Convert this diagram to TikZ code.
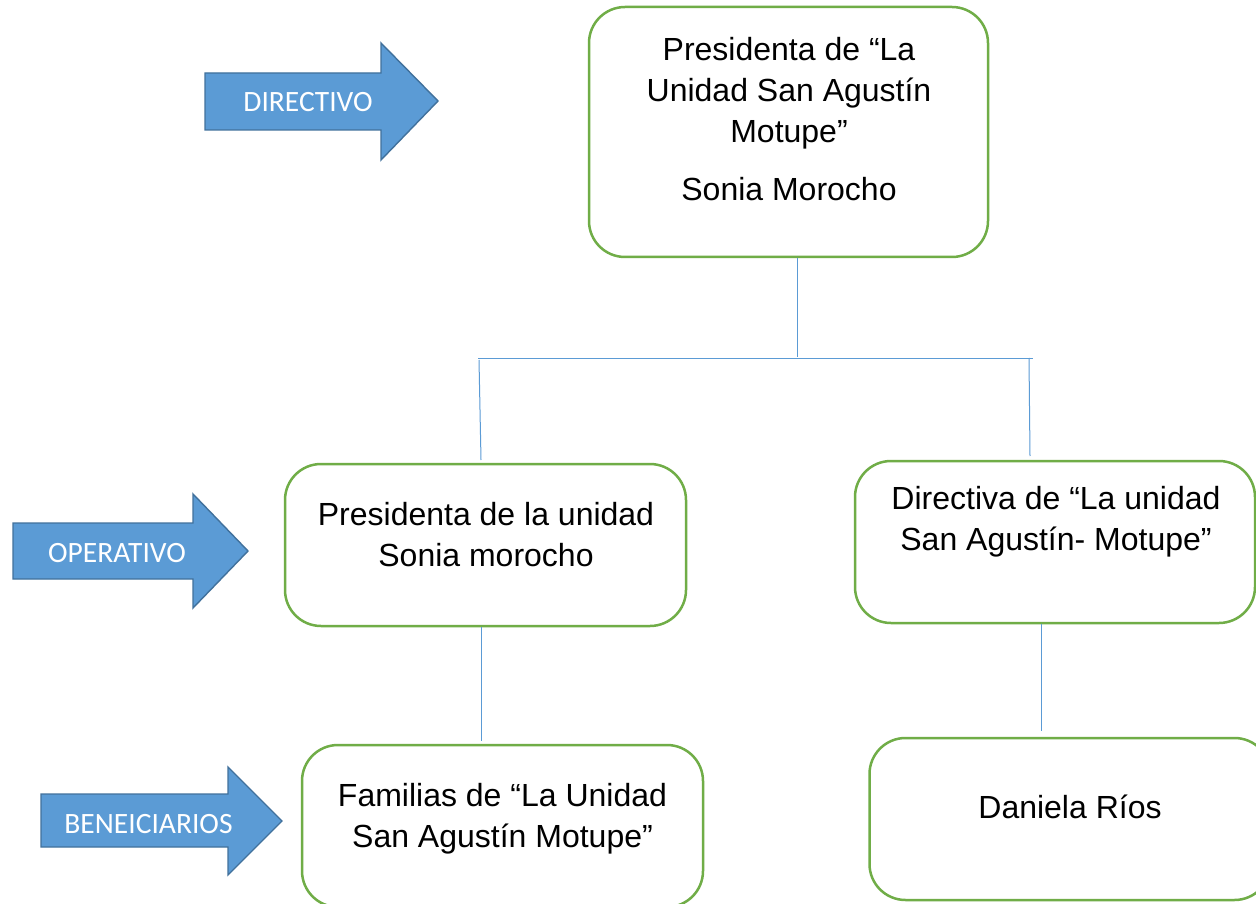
\documentclass[tikz,border=0pt]{standalone}
\usepackage{fontspec}
\setmainfont{Liberation Sans}
\newfontfamily\calib{Carlito}
\definecolor{boxgreen}{HTML}{70AD47}
\definecolor{lineblue}{HTML}{5B9BD5}
\definecolor{arrfill}{HTML}{5B9BD5}
\definecolor{arrdraw}{HTML}{41719C}
\begin{document}
\begin{tikzpicture}[x=1pt,y=-1pt,
  box/.style={draw=boxgreen, line width=2.5pt, rounded corners=36pt, fill=white, inner sep=0pt},
  txt/.style={font=\fontsize{32}{41}\selectfont, align=center, inner sep=0pt, anchor=north},
  conn/.style={draw=lineblue, line width=1pt},
  bigarrow/.style={fill=arrfill, draw=arrdraw, line width=1.4pt, line join=miter},
  arrtxt/.style={font=\calib\fontsize{29.5}{34}\selectfont, text=white, inner sep=0pt, anchor=base}
]
\useasboundingbox (0,0) rectangle (1256,904);
\clip (0,0) rectangle (1256,904);
\fill[white] (0,0) rectangle (1256,904);

% arrows
\draw[bigarrow] (205,73) -- (381,73) -- (381,43) -- (438,101) -- (381,160) -- (381,130) -- (205,130) -- cycle;
\node[arrtxt] (directivo) at (308,112) {DIRECTIVO};
\draw[bigarrow] (13,523) -- (193,523) -- (193,494) -- (248,551) -- (193,608) -- (193,579) -- (13,579) -- cycle;
\node[arrtxt] (operativo) at (117,562) {OPERATIVO};
\draw[bigarrow] (41,794) -- (228,794) -- (228,767) -- (282,821) -- (228,875) -- (228,847) -- (41,847) -- cycle;
\node[arrtxt] (benef) at (148.5,833) {BENEICIARIOS};

% boxes
\node[box, minimum width=399pt, minimum height=250pt] (top) at (788.5,132) {};
\node[txt] (toptxt) at (789,37) {Presidenta de “La\\Unidad San Agustín\\Motupe”\\[17pt]Sonia Morocho};

\node[box, minimum width=401pt, minimum height=162pt] (pres) at (485.5,545) {};
\node[txt] (prestxt) at (486,502) {Presidenta de la unidad\\Sonia morocho};

\node[box, minimum width=400pt, minimum height=162pt] (dirv) at (1055,542) {};
\node[txt] (dirvtxt) at (1056,486) {Directiva de “La unidad\\San Agustín- Motupe”};

\node[box, minimum width=401pt, minimum height=162pt] (fam) at (502.5,826) {};
\node[txt] (famtxt) at (502.5,783) {Familias de “La Unidad\\San Agustín Motupe”};

\node[box, minimum width=401pt, minimum height=162pt] (dan) at (1070,819) {};
\node[txt] (dantxt) at (1070,795) {Daniela Ríos};

% connectors
\coordinate (j) at (797,357);
\coordinate (hl) at (478,358);
\coordinate (hr) at (1033,358);
\coordinate (l1) at (479,360);
\coordinate (l2) at (481,460);
\coordinate (r1) at (1029,358);
\coordinate (r2) at (1030,456);
\coordinate (fl) at (481,741);
\coordinate (dr) at (1041,731);
\draw[conn] (top.south -| j) -- (j);
\draw[conn] (hl) -- (hr);
\draw[conn] (l1) -- (l2);
\draw[conn] (r1) -- (r2);
\draw[conn] (pres.south -| fl) -- (fl);
\draw[conn] (dirv.south -| dr) -- (dr);
\end{tikzpicture}
\end{document}
